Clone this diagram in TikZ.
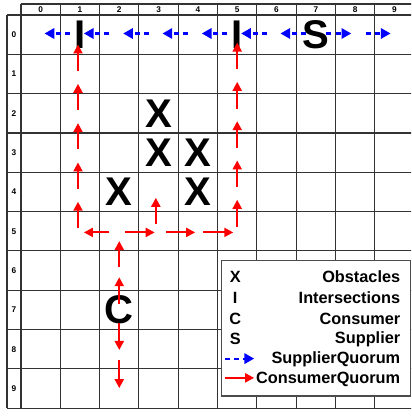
\documentclass[tikz,border=0pt]{standalone}
\usepackage{fontspec}
\setmainfont{Liberation Sans}
\usepackage{tikz}
\usetikzlibrary{arrows.meta}

\begin{document}
\begin{tikzpicture}[
    big/.style={font=\fontsize{29}{29}\selectfont\bfseries},
    lbl/.style={font=\fontsize{6}{6}\selectfont\bfseries},
    leg/.style={font=\fontsize{11.8}{12}\selectfont\bfseries},
    gline/.style={black!80, line width=0.8pt},
    sq/.style={blue, line width=1.5pt, dash pattern=on 3.6pt off 3pt, -{Triangle[length=7pt,width=7.5pt]}},
    cq/.style={red, line width=1.5pt, -{Triangle[length=6.5pt,width=6.5pt]}}]
    \useasboundingbox (-0.534,0.382) rectangle (9.924,-10.2);
    \clip (-0.534,0.382) rectangle (9.924,-10.2);
    % grid with header row and row labels
    \foreach \i in {0,...,10} \draw[gline] (\i,0.28) -- (\i,-10);
    \foreach \j in {0,...,10} \draw[gline] (-0.356,-\j) -- (10,-\j);
    \draw[gline] (0,0.28) -- (10,0.28);
    \draw[gline] (-0.356,0) -- (-0.356,-10);
    \foreach \i in {0,...,9} {
        \node[lbl] (col\i) at (\i+0.5,0.14) {\i};
        \node[lbl] (row\i) at (-0.178,-\i-0.5) {\i};
    }
    % obstacles, intersections, consumer, supplier
    \node[big] (obsA) at (3.5,-2.5) {X};
    \node[big] (obsB) at (3.5,-3.5) {X};
    \node[big] (obsC) at (4.5,-3.5) {X};
    \node[big] (obsD) at (2.5,-4.5) {X};
    \node[big] (obsE) at (4.5,-4.5) {X};
    \node[big] (isA) at (1.5,-0.5) {I};
    \node[big] (isB) at (5.5,-0.5) {I};
    \node[big] (con) at (2.5,-7.5) {C};
    \node[big] (sup) at (7.5,-0.5) {S};
    % supplier quorum
    \foreach \c in {0,...,6} \draw[sq] (\c+1.25,-0.47) -- (\c+0.6,-0.47);
    \foreach \c in {7,8} \draw[sq] (\c+0.77,-0.47) -- (\c+1.4,-0.47);
    % consumer quorum
    \foreach \r in {0,...,4} {
        \draw[cq] (1.45,-\r-1.42) -- (1.45,-\r-0.75);
        \draw[cq] (5.5,-\r-1.38) -- (5.5,-\r-0.7);
    }
    \draw[cq] (2.25,-5.53) -- (1.6,-5.53);
    \draw[cq] (2.65,-5.53) -- (3.4,-5.53);
    \draw[cq] (3.7,-5.53) -- (4.43,-5.53);
    \draw[cq] (4.63,-5.53) -- (5.4,-5.53);
    \draw[cq] (3.43,-5.32) -- (3.43,-4.65);
    \draw[cq] (2.5,-6.41) -- (2.5,-5.75);
    \draw[cq] (2.5,-7.35) -- (2.5,-6.67);
    \draw[cq] (2.5,-7.84) -- (2.5,-8.52);
    \draw[cq] (2.5,-8.78) -- (2.5,-9.49);
    % legend
    \filldraw[fill=white, draw=black!70, line width=0.8pt] (5.11,-6.25) rectangle (9.9,-9.69);
    \node[leg, anchor=base] (keyX) at (5.45,-6.81) {X};
    \node[leg, anchor=base] (keyI) at (5.45,-7.34) {I};
    \node[leg, anchor=base] (keyC) at (5.45,-7.86) {C};
    \node[leg, anchor=base] (keyS) at (5.45,-8.38) {S};
    \node[leg, anchor=base east] (txtObs) at (9.77,-6.81) {Obstacles};
    \node[leg, anchor=base east] (txtIs) at (9.77,-7.34) {Intersections};
    \node[leg, anchor=base east] (txtCon) at (9.77,-7.86) {Consumer};
    \node[leg, anchor=base east] (txtSup) at (9.77,-8.35) {Supplier};
    \node[leg, anchor=base east] (txtSq) at (9.77,-8.86) {SupplierQuorum};
    \node[leg, anchor=base east] (txtCq) at (9.77,-9.37) {ConsumerQuorum};
    \draw[sq] (5.19,-8.74) -- (5.93,-8.74);
    \draw[cq] (5.19,-9.23) -- (5.93,-9.23);
\end{tikzpicture}
\end{document}
